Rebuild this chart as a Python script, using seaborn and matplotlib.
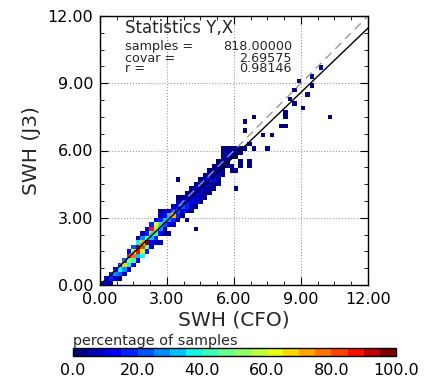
import numpy as np
import seaborn as sns
import matplotlib
matplotlib.use("Agg")
import matplotlib.pyplot as plt
from matplotlib.ticker import FormatStrFormatter, MultipleLocator

# 2D histogram: columns of 0.2 wide bins (lower edges), with the
# y lower edges and the percentage (of the max cell) in each column
col_x = [0.0, 0.2, 0.4, 0.6, 0.8, 1.0, 1.2, 1.4, 1.6, 1.8,
         2.0, 2.2, 2.4, 2.6, 2.8, 3.0, 3.2, 3.4, 3.6, 3.8,
         4.0, 4.2, 4.4, 4.6, 4.8, 5.0, 5.2, 5.4, 5.6, 5.8,
         6.0, 6.2, 6.4, 6.6, 6.8, 7.2, 7.4, 7.6, 8.0, 8.2,
         8.4, 8.6, 8.8, 9.0, 9.2, 9.4, 9.8, 10.2]
col_y = [[0.0], [0.0, 0.2], [0.0, 0.2, 0.4], [0.2, 0.4, 0.6], [0.2, 0.4, 0.6, 0.8],
         [0.4, 0.6, 0.8, 1.0], [0.6, 0.8, 1.0, 1.2, 1.4], [0.8, 1.0, 1.2, 1.4, 1.6],
         [1.0, 1.2, 1.4, 1.6, 1.8, 2.0], [1.2, 1.4, 1.6, 1.8, 2.0, 2.2],
         [1.4, 1.6, 1.8, 2.0, 2.2, 2.4], [1.6, 1.8, 2.0, 2.2, 2.4, 2.6],
         [1.8, 2.0, 2.2, 2.4, 2.6, 2.8], [1.8, 2.2, 2.4, 2.6, 2.8, 3.0, 3.2],
         [2.2, 2.4, 2.6, 2.8, 3.0, 3.2], [2.2, 2.6, 2.8, 3.0, 3.2],
         [2.6, 2.8, 3.0, 3.2, 3.4], [2.8, 3.0, 3.2, 3.4, 3.6, 3.8, 4.6],
         [3.0, 3.2, 3.4, 3.6, 3.8], [2.8, 3.2, 3.4, 3.6, 3.8, 4.0],
         [3.2, 3.4, 3.6, 3.8, 4.0, 4.2], [2.4, 3.4, 3.6, 3.8, 4.0, 4.2, 4.4],
         [3.6, 3.8, 4.0, 4.2, 4.4, 4.6], [3.8, 4.0, 4.2, 4.4, 4.6, 4.8],
         [4.0, 4.2, 4.4, 4.6, 4.8, 5.0], [4.2, 4.4, 4.6, 4.8, 5.0, 5.2],
         [4.4, 4.6, 4.8, 5.0, 5.2, 5.4], [4.8, 5.0, 5.2, 5.4, 5.6, 5.8, 6.0],
         [5.2, 5.4, 5.6, 5.8, 6.0], [5.0, 5.2, 5.6, 5.8, 6.0],
         [4.2, 5.0, 5.6, 5.8, 6.0], [5.2, 5.4, 5.8, 6.0], [6.0, 6.8, 7.2],
         [5.2, 5.4, 6.2], [6.0, 7.4], [6.6], [6.0], [6.6], [7.0], [7.0, 7.4, 7.6],
         [8.2], [8.0, 8.6], [9.0], [7.8], [8.4], [8.8, 9.2], [9.6], [7.4]]
col_pct = [[8], [10, 12], [4, 15, 10], [8, 25, 12], [4, 20, 35, 15],
           [8, 28, 65, 20], [6, 35, 50, 85, 12], [10, 40, 75, 62, 20],
           [12, 30, 88, 95, 35, 8], [35, 55, 80, 65, 25, 8],
           [15, 45, 98, 40, 15, 6], [6, 10, 30, 45, 85, 15],
           [8, 15, 35, 50, 62, 10], [6, 12, 25, 35, 18, 6, 3],
           [3, 8, 20, 30, 12, 6], [3, 10, 25, 32, 8],
           [6, 15, 72, 18, 6], [4, 15, 22, 12, 6, 3, 3],
           [4, 10, 20, 10, 4], [3, 6, 15, 15, 7, 3],
           [3, 6, 10, 14, 7, 3], [3, 3, 6, 8, 10, 6, 3],
           [3, 6, 8, 10, 6, 3], [4, 4, 8, 7, 6, 3],
           [3, 4, 8, 18, 6, 3], [3, 4, 10, 8, 4, 3],
           [3, 4, 7, 8, 4, 3], [3, 4, 6, 4, 4, 3, 3],
           [4, 3, 6, 6, 4], [3, 3, 4, 6, 4],
           [3, 3, 3, 4, 3], [3, 3, 3, 3], [3, 3, 3],
           [3, 3, 3], [3, 3], [3], [3], [3], [3], [3, 3, 3],
           [3], [3, 3], [3], [3], [3], [3, 3], [3], [3]]

bin_w = 0.2
fit_slope = 0.955
fit_intercept = 0.0
stat_names = ["samples =", "covar =", "r ="]
stat_values = ["818.00000", "2.69575", "0.98146"]
axis_ticks = [0, 3, 6, 9, 12]
cbar_ticks = [0, 20, 40, 60, 80, 100]

sns.set_style("ticks", {"axes.grid": True, "grid.linestyle": ":",
                        "grid.color": "#999999", "axes.edgecolor": "black"})
plt.rcParams["font.family"] = ["DejaVu Sans"]

# flatten the columns into one cell list (bin centres)
xs = [x + bin_w / 2 for x, ycol in zip(col_x, col_y) for _ in ycol]
ys = [y + bin_w / 2 for ycol in col_y for y in ycol]
ws = [p for pcol in col_pct for p in pcol]

cmap = matplotlib.colormaps["jet"].resampled(20)

W, H = 439, 377
fig = plt.figure(figsize=(W / 100, H / 100), dpi=100)
ax = fig.add_axes([100 / W, 1 - 285 / H, 268 / W, 269 / H])

sns.histplot(x=xs, y=ys, weights=ws, binwidth=bin_w, binrange=(0, 12),
             cmap=cmap, vmin=0, vmax=100, ax=ax)
mesh = ax.collections[0]

line_x = np.array([0, 12])
ax.plot(line_x, line_x, color="#999999", linestyle=(0, (6, 4)), lw=1)
ax.plot(line_x, fit_slope * line_x + fit_intercept, color="black", lw=1)

ax.set_xlim(0, 12)
ax.set_ylim(0, 12)
ax.set_xticks(axis_ticks)
ax.set_yticks(axis_ticks)
ax.xaxis.set_major_formatter(FormatStrFormatter("%.2f"))
ax.yaxis.set_major_formatter(FormatStrFormatter("%.2f"))
ax.xaxis.set_minor_locator(MultipleLocator(0.75))
ax.yaxis.set_minor_locator(MultipleLocator(0.75))
ax.tick_params(which="both", direction="in", top=True, right=True,
               labelsize=11.5, colors="black")
ax.tick_params(which="major", length=6, pad=5)
ax.tick_params(which="minor", length=3)
for s in ax.spines.values():
    s.set_linewidth(1)
    s.set_color("black")

ax.set_xlabel("SWH (CFO)", fontsize=14.5)
ax.set_ylabel("SWH (J3)", fontsize=14.5)
ax.xaxis.set_label_coords(0.5, -0.095)
ax.yaxis.set_label_coords(-0.22, 0.5)

# statistics box
fig.text(125 / W, 1 - 33 / H, "Statistics Y,X", fontsize=12, va="baseline")
for name, val, base in zip(stat_names, stat_values, [50, 61.5, 72.5]):
    fig.text(125 / W, 1 - base / H, name, fontsize=9.2, va="baseline")
    fig.text(292 / W, 1 - base / H, val, fontsize=9.2, va="baseline", ha="right")

# colorbar
cax = fig.add_axes([73 / W, 1 - 356 / H, 323 / W, 8 / H])
cb = fig.colorbar(mesh, cax=cax, orientation="horizontal", ticks=cbar_ticks)
cb.ax.xaxis.set_major_formatter(FormatStrFormatter("%.1f"))
cb.ax.tick_params(direction="in", length=3, labelsize=11.5, pad=5, colors="black")
cb.outline.set_linewidth(1)
fig.text(73 / W, 1 - 345 / H, "percentage of samples", fontsize=10.4, va="baseline")

fig.savefig("out.png", dpi=100)
